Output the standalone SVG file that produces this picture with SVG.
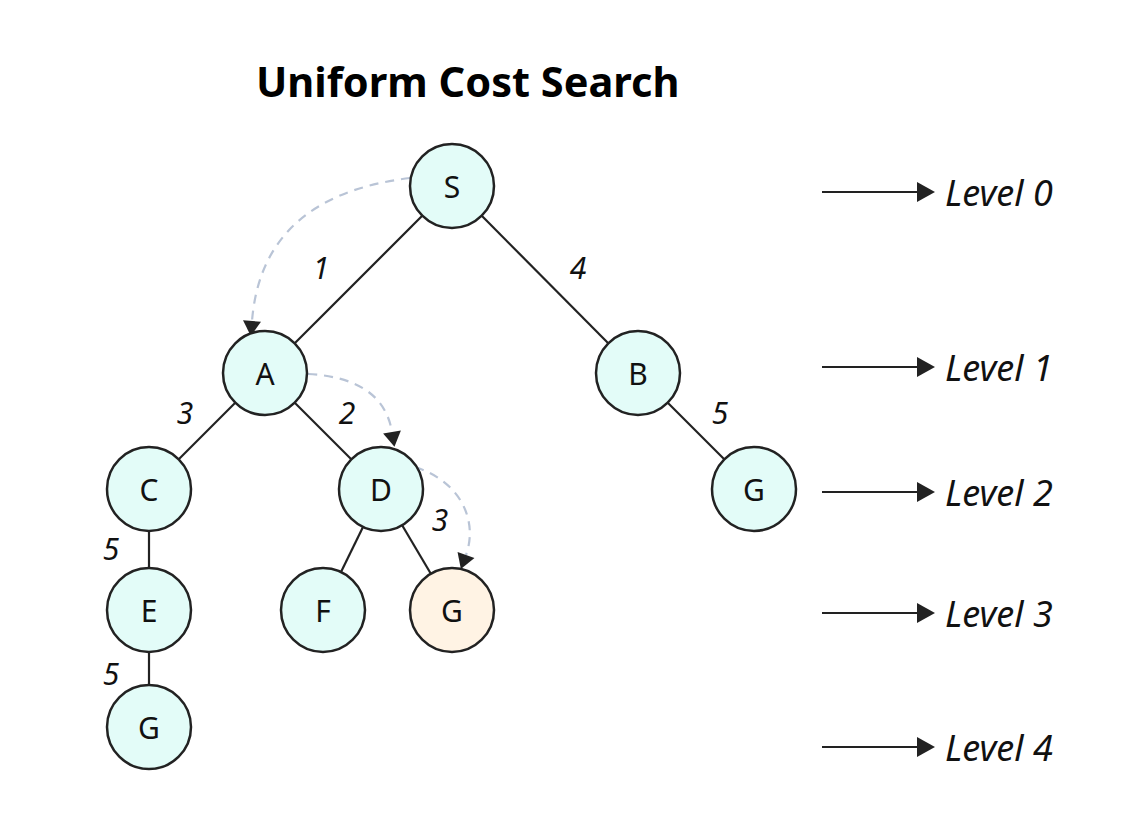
<svg xmlns="http://www.w3.org/2000/svg" width="1128" height="822" viewBox="0 0 1128 822">
<style>
.node circle{fill:#e3fcf8;stroke:#222;stroke-width:2.5}
.node.goal circle{fill:#fff3e4}
.node text{font-family:"Noto Sans","Liberation Sans",sans-serif;font-size:30px;fill:#111;text-anchor:middle;dominant-baseline:central}
.edge{stroke:#222;stroke-width:2.2;fill:none}
.path{stroke:#b9c4d6;stroke-width:2.2;fill:none;stroke-dasharray:9 7}
.lvl{stroke:#222;stroke-width:2.2;fill:none}
.w{font-family:"Noto Sans","Liberation Sans",sans-serif;font-style:italic;font-size:30px;fill:#111;text-anchor:middle}
.lt{font-family:"Noto Sans","Liberation Sans",sans-serif;font-style:italic;font-size:36px;fill:#111}
.title{font-family:"Noto Sans","Liberation Sans",sans-serif;font-weight:bold;font-size:41.5px;fill:#000}
</style>
<defs>
<marker id="ah" markerUnits="userSpaceOnUse" markerWidth="20" markerHeight="20" viewBox="0 -10 16 20" refX="0" refY="0" orient="auto">
<path d="M0,-9 L15,0 L0,9 z" fill="#222"/>
</marker>
<marker id="la" markerUnits="userSpaceOnUse" markerWidth="20" markerHeight="22" viewBox="0 -11 18 22" refX="0" refY="0" orient="auto">
<path d="M0,-10 L18,0 L0,10 z" fill="#222"/>
</marker>
</defs>
<rect width="1128" height="822" fill="#fff"/>
<text class="title" x="256" y="97">Uniform Cost Search</text>
<g id="connectors">
<line class="edge" x1="422" y1="216" x2="294" y2="344"/>
<line class="edge" x1="482" y1="216" x2="608" y2="343"/>
<line class="edge" x1="235" y1="403" x2="179" y2="459"/>
<line class="edge" x1="295" y1="403" x2="351" y2="459"/>
<line class="edge" x1="668" y1="403" x2="724" y2="459"/>
<line class="edge" x1="363" y1="527" x2="341" y2="572"/>
<line class="edge" x1="402" y1="525" x2="431" y2="574"/>
<line class="edge" x1="149" y1="531" x2="149" y2="568"/>
<line class="edge" x1="149" y1="651" x2="149" y2="685"/>
<path class="path" d="M410 178 Q262 196 252 321" marker-end="url(#ah)"/>
<path class="path" d="M308 374 Q383 378 392 432" marker-end="url(#ah)"/>
<path class="path" d="M415 467 C462 482 478 522 466 555" marker-end="url(#ah)"/>
<line class="lvl" x1="822" y1="192" x2="917" y2="192" marker-end="url(#la)"/>
<line class="lvl" x1="822" y1="367" x2="917" y2="367" marker-end="url(#la)"/>
<line class="lvl" x1="822" y1="492" x2="917" y2="492" marker-end="url(#la)"/>
<line class="lvl" x1="822" y1="613" x2="917" y2="613" marker-end="url(#la)"/>
<line class="lvl" x1="822" y1="747" x2="917" y2="747" marker-end="url(#la)"/>
</g>
<g id="weights">
<text class="w" x="321" y="279">1</text>
<text class="w" x="578" y="279">4</text>
<text class="w" x="185" y="424">3</text>
<text class="w" x="347" y="424">2</text>
<text class="w" x="720" y="424">5</text>
<text class="w" x="440" y="531">3</text>
<text class="w" x="111" y="560">5</text>
<text class="w" x="111" y="685">5</text>
</g>
<g id="levels">
<text class="lt" x="945" y="206">Level 0</text>
<text class="lt" x="945" y="381">Level 1</text>
<text class="lt" x="945" y="506">Level 2</text>
<text class="lt" x="945" y="627">Level 3</text>
<text class="lt" x="945" y="761">Level 4</text>
</g>
<g id="node-S" class="node"><circle cx="452" cy="186" r="42"/><text x="452" y="186">S</text></g>
<g id="node-A" class="node"><circle cx="265" cy="373" r="42"/><text x="265" y="373">A</text></g>
<g id="node-B" class="node"><circle cx="638" cy="373" r="42"/><text x="638" y="373">B</text></g>
<g id="node-C" class="node"><circle cx="149" cy="489" r="42"/><text x="149" y="489">C</text></g>
<g id="node-D" class="node"><circle cx="381" cy="489" r="42"/><text x="381" y="489">D</text></g>
<g id="node-G1" class="node"><circle cx="754" cy="489" r="42"/><text x="754" y="489">G</text></g>
<g id="node-E" class="node"><circle cx="149" cy="610" r="42"/><text x="149" y="610">E</text></g>
<g id="node-F" class="node"><circle cx="323" cy="610" r="42"/><text x="323" y="610">F</text></g>
<g id="node-G2" class="node goal"><circle cx="452" cy="610" r="42"/><text x="452" y="610">G</text></g>
<g id="node-G3" class="node"><circle cx="149" cy="727" r="42"/><text x="149" y="727">G</text></g>
</svg>
